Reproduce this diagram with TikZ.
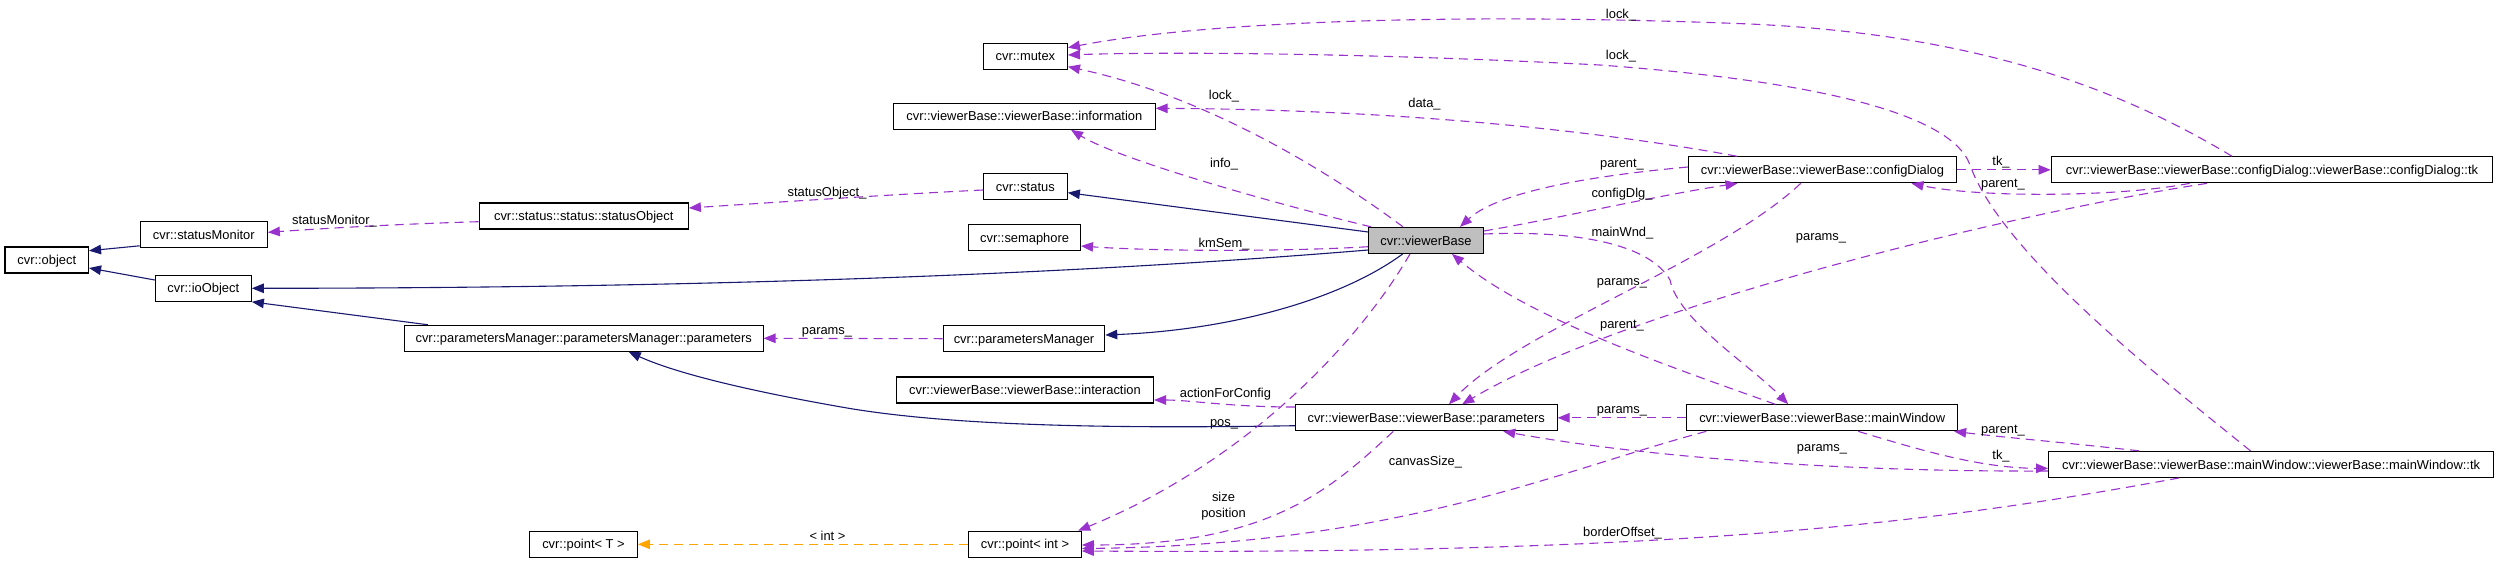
\documentclass[tikz,border=0pt]{standalone}
\usepackage{fontspec}
\setmainfont{Liberation Sans}
\usetikzlibrary{arrows.meta,calc}
\definecolor{inh}{HTML}{191970}
\definecolor{usg}{HTML}{9A32CD}
\definecolor{tpl}{HTML}{FFA500}
\definecolor{hl}{HTML}{BFBFBF}
\begin{document}
\begin{tikzpicture}[x=1pt,y=-1pt,
  font=\fontsize{12.9}{15}\selectfont,
  cls/.style={draw=black,line width=1.1pt,fill=white,minimum height=26pt,inner sep=0pt,text height=9.3pt,text depth=0pt},
  lbl/.style={inner sep=0pt,text height=9.3pt,text depth=0pt},
  tip/.style={-{Triangle[length=12pt,width=9.5pt]}},
  inhedge/.style={draw=inh,line width=1.1pt,tip},
  useedge/.style={draw=usg,line width=1.1pt,dash pattern=on 9pt off 6pt,tip},
  tpledge/.style={draw=tpl,line width=1.1pt,dash pattern=on 9pt off 6pt,tip}]
\path[use as bounding box,fill=white] (0,0) rectangle (2499,563);

% class nodes
\node[cls,minimum width=83.5pt] (object) at (46.75,260) {cvr::object};
\node[cls,minimum width=127pt] (statusMonitor) at (203.8,234.8) {cvr::statusMonitor};
\node[cls,minimum width=96pt] (ioObject) at (203.3,288.3) {cvr::ioObject};
\node[cls,minimum width=209.3pt] (statusObject) at (583.7,216) {cvr::status::status::statusObject};
\node[cls,minimum width=358.7pt] (pmparams) at (583.7,338.3) {cvr::parametersManager::parametersManager::parameters};
\node[cls,minimum width=107.7pt] (pointT) at (583.5,544.3) {cvr::point< T >};
\node[cls,minimum width=84pt] (mutex) at (1025.4,56.3) {cvr::mutex};
\node[cls,minimum width=261.7pt] (information) at (1024.3,116.3) {cvr::viewerBase::viewerBase::information};
\node[cls,minimum width=84pt] (status) at (1025.3,186.8) {cvr::status};
\node[cls,minimum width=111.7pt] (semaphore) at (1024.6,237.7) {cvr::semaphore};
\node[cls,minimum width=114.6pt,fill=hl] (viewerBase) at (1426,240.4) {cvr::viewerBase};
\node[cls,minimum width=161.5pt] (parametersManager) at (1024,338.7) {cvr::parametersManager};
\node[cls,minimum width=257pt] (interaction) at (1025,390) {cvr::viewerBase::viewerBase::interaction};
\node[cls,minimum width=261.7pt] (vbparams) at (1426.2,417.8) {cvr::viewerBase::viewerBase::parameters};
\node[cls,minimum width=112.6pt] (pointInt) at (1025,544.3) {cvr::point< int >};
\node[cls,minimum width=268pt] (configDialog) at (1822.5,169.8) {cvr::viewerBase::viewerBase::configDialog};
\node[cls,minimum width=441.6pt] (cdtk) at (2272,169.8) {cvr::viewerBase::viewerBase::configDialog::viewerBase::configDialog::tk};
\node[cls,minimum width=270.7pt] (mainWindow) at (1822.2,417.8) {cvr::viewerBase::viewerBase::mainWindow};
\node[cls,minimum width=445pt] (mwtk) at (2271.1,464.4) {cvr::viewerBase::viewerBase::mainWindow::viewerBase::mainWindow::tk};

% inheritance
\draw[inhedge] ($(statusMonitor.west)+(0,11)$) -- ($(object.east)+(0,-9.3)$);
\draw[inhedge] ($(ioObject.west)+(0,-8.3)$) -- ($(object.east)+(0,8)$);
\draw[inhedge] ($(viewerBase.west)+(0,9.6)$) .. controls (1150,268) and (800,288) .. (ioObject.east);
\draw[inhedge] ($(viewerBase.west)+(0,-8.4)$) -- ($(status.east)+(0,5.9)$);
\draw[inhedge] ($(viewerBase.south)+(-23.3,0)$) .. controls (1340,300) and (1230,330) .. ($(parametersManager.east)+(0,-3.7)$);
\draw[inhedge] ($(vbparams.west)+(0,7.9)$) .. controls (1100,429) and (950,425) .. (850,408.5) .. controls (760,393) and (680,375) .. ($(pmparams.south)+(45,0)$);
\draw[inhedge] ($(pmparams.north west)+(24,0)$) -- (ioObject.south east);

% usage
\draw[useedge] ($(statusObject.west)+(0,5.7)$) .. controls (400,224) and (330,228) .. ($(statusMonitor.east)+(0,-2.5)$);
\draw[useedge] ($(status.west)+(0,3.2)$) .. controls (900,194) and (780,202) .. ($(statusObject.east)+(0,-8)$);
\draw[useedge] ($(viewerBase.west)+(0,6.3)$) .. controls (1280,252) and (1150,251) .. ($(semaphore.east)+(0,8.3)$);
\draw[useedge] ($(viewerBase.north west)+(3,0)$) .. controls (1280,205) and (1120,160) .. ($(information.south)+(46.7,0)$);
\draw[useedge] ($(viewerBase.north)+(-23,0)$) .. controls (1320,165) and (1200,95) .. ($(mutex.east)+(0,10.4)$);
\draw[useedge] ($(configDialog.north west)+(49,0)$) .. controls (1650,140) and (1450,110) .. ($(information.east)+(0,-8)$);
\draw[useedge] ($(cdtk.north)+(-40,0)$) .. controls (2130,95) and (1990,35) .. (1750,24) .. controls (1450,12) and (1200,22) .. ($(mutex.east)+(0,-8.6)$);
\draw[useedge] ($(mwtk.north)+(-20.6,0)$) .. controls (2150,370) and (2000,250) .. (1970,165) .. controls (1950,110) and (1800,80) .. (1600,65) .. controls (1350,52) and (1150,52) .. ($(mutex.east)+(0,-1.3)$);
\draw[useedge] ($(viewerBase.east)+(0,-9.4)$) .. controls (1560,218) and (1660,195) .. ($(configDialog.south)+(-85,0)$);
\draw[useedge] ($(configDialog.west)+(0,-2.8)$) .. controls (1600,175) and (1500,190) .. ($(viewerBase.north)+(34,0)$);
\draw[useedge] (configDialog.east) -- (cdtk.west);
\draw[useedge] ($(cdtk.south west)+(139,0)$) .. controls (2120,197) and (1980,198) .. ($(configDialog.south)+(89,0)$);
\draw[useedge] ($(configDialog.south)+(-21.8,0)$) .. controls (1720,260) and (1520,330) .. ($(vbparams.north)+(22.8,0)$);
\draw[useedge] ($(cdtk.south west)+(156.4,0)$) .. controls (2000,215) and (1620,310) .. ($(vbparams.north)+(36,0)$);
\draw[useedge] ($(viewerBase.east)+(0,-6.4)$) .. controls (1580,230) and (1650,245) .. (1670,280) .. controls (1678,320) and (1750,365) .. ($(mainWindow.north)+(-34,0)$);
\draw[useedge] ($(mainWindow.north)+(-47,0)$) .. controls (1680,370) and (1530,320) .. ($(viewerBase.south)+(26,0)$);
\draw[useedge] (mainWindow.west) -- (vbparams.east);
\draw[useedge] ($(mwtk.west)+(0,6.6)$) .. controls (1850,472) and (1650,458) .. ($(vbparams.south)+(77,0)$);
\draw[useedge] ($(mainWindow.south)+(36,0)$) .. controls (1920,450) and (1980,468) .. ($(mwtk.west)+(0,4)$);
\draw[useedge] ($(mwtk.north west)+(91,0)$) .. controls (2060,442) and (2000,437) .. ($(mainWindow.south east)+(-4,0)$);
\draw[useedge] ($(viewerBase.south)+(-16,0)$) .. controls (1360,340) and (1250,460) .. ($(pointInt.north east)+(-3.7,0)$);
\draw[useedge] ($(vbparams.south)+(-32.9,0)$) .. controls (1330,490) and (1270,545) .. ($(pointInt.east)+(0,0.7)$);
\draw[useedge] ($(mainWindow.south west)+(20,0)$) .. controls (1560,470) and (1400,545) .. ($(pointInt.east)+(0,4.2)$);
\draw[useedge] ($(mwtk.south)+(-92,0)$) .. controls (1950,520) and (1700,555) .. ($(pointInt.east)+(0,6.7)$);
\draw[useedge] ($(vbparams.west)+(0,-10.8)$) .. controls (1230,407) and (1190,400) .. ($(interaction.east)+(0,10)$);
\draw[useedge] (parametersManager.west) -- (pmparams.east);
\draw[tpledge] (pointInt.west) -- (pointT.east);

% edge labels
\node[lbl] (lStatusMonitor) at (334.5,220) {statusMonitor\_};
\node[lbl] (lStatusObject) at (827,191.5) {statusObject\_};
\node[lbl] (lKmSem) at (1224,242.7) {kmSem\_};
\node[lbl] (lInfo) at (1224,162.7) {info\_};
\node[lbl] (lLockA) at (1224,94.5) {lock\_};
\node[lbl] (lData) at (1424.5,103) {data\_};
\node[lbl] (lLockB) at (1621,13.5) {lock\_};
\node[lbl] (lLockC) at (1621,54.5) {lock\_};
\node[lbl] (lConfigDlg) at (1622,192.5) {configDlg\_};
\node[lbl] (lParentA) at (1622,163) {parent\_};
\node[lbl] (lTkA) at (2001,160.5) {tk\_};
\node[lbl] (lParentB) at (2003,183) {parent\_};
\node[lbl] (lParamsA) at (1622,280.5) {params\_};
\node[lbl] (lParamsB) at (1821,235.5) {params\_};
\node[lbl] (lMainWnd) at (1622.5,231.5) {mainWnd\_};
\node[lbl] (lParentC) at (1622,324) {parent\_};
\node[lbl] (lParamsC) at (1622,409) {params\_};
\node[lbl] (lParamsD) at (1822,447) {params\_};
\node[lbl] (lTkB) at (2001,455) {tk\_};
\node[lbl] (lParentD) at (2003,429) {parent\_};
\node[lbl] (lPos) at (1224,421.7) {pos\_};
\node[lbl] (lSize) at (1223.5,496.7) {size};
\node[lbl] (lPosition) at (1223.5,513) {position};
\node[lbl] (lCanvas) at (1425.5,461) {canvasSize\_};
\node[lbl] (lBorder) at (1622.5,531.5) {borderOffset\_};
\node[lbl] (lInt) at (827.5,536) {< int >};
\node[lbl] (lAction) at (1225.5,393) {actionForConfig};
\node[lbl] (lParamsE) at (827,330) {params\_};
\end{tikzpicture}
\end{document}
